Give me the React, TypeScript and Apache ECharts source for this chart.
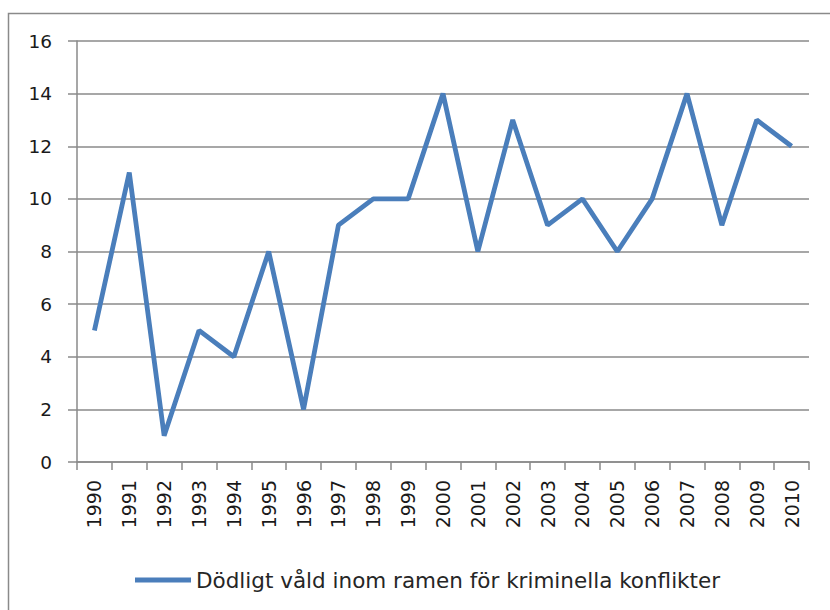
import React, { useEffect, useRef } from "react";
import * as echarts from "echarts";

const years = ["1990","1991","1992","1993","1994","1995","1996","1997","1998","1999","2000","2001","2002","2003","2004","2005","2006","2007","2008","2009","2010"];
const values = [5, 11, 1, 5, 4, 8, 2, 9, 10, 10, 14, 8, 13, 9, 10, 8, 10, 14, 9, 13, 12];
const seriesName = "Dödligt våld inom ramen för kriminella konflikter";

const FONT = "'DejaVu Sans', 'Liberation Sans', sans-serif";

export default function App() {
  const ref = useRef<HTMLDivElement>(null);
  useEffect(() => {
    if (!ref.current) return;
    const chart = echarts.init(ref.current, null, { renderer: "svg" });
    chart.setOption({
      animation: false,
      backgroundColor: "#ffffff",
      graphic: [
        {
          type: "rect",
          shape: { x: 8.5, y: 13.5, width: 830, height: 610 },
          style: { fill: "none", stroke: "#8a8a8a", lineWidth: 1.5 },
          silent: true,
        },
      ],
      grid: { left: 77, right: 21, top: 41, bottom: 148, containLabel: false },
      legend: {
        left: 130,
        top: 564,
        icon: "rect",
        itemWidth: 56,
        itemHeight: 5,
        itemGap: 5,
        textStyle: { fontFamily: FONT, fontSize: 21.5, color: "#262626" },
        data: [seriesName],
      },
      xAxis: {
        type: "category",
        data: years,
        boundaryGap: true,
        axisLine: { lineStyle: { color: "#8a8a8a", width: 1.5 } },
        axisTick: { show: true, interval: 0, length: 8, lineStyle: { color: "#8a8a8a", width: 1.5 } },
        axisLabel: { interval: 0, rotate: 90, margin: 18, fontFamily: FONT, fontSize: 19, color: "#1a1a1a" },
      },
      yAxis: {
        type: "value",
        min: 0,
        max: 16,
        interval: 2,
        axisLine: { show: true, lineStyle: { color: "#8a8a8a", width: 1.5 } },
        axisTick: { show: true, length: 9, lineStyle: { color: "#8a8a8a", width: 1.5 } },
        splitLine: { lineStyle: { color: "#8a8a8a", width: 1.5 } },
        axisLabel: { margin: 25, fontFamily: FONT, fontSize: 18.5, color: "#1a1a1a" },
      },
      series: [
        {
          name: seriesName,
          type: "line",
          data: values,
          symbol: "none",
          lineStyle: { color: "#4a7ebb", width: 4.8 },
          itemStyle: { color: "#4a7ebb" },
        },
      ],
    });
    return () => chart.dispose();
  }, []);
  return <div ref={ref} style={{ width: 830, height: 610, position: "absolute", left: 0, top: 0 }} />;
}
